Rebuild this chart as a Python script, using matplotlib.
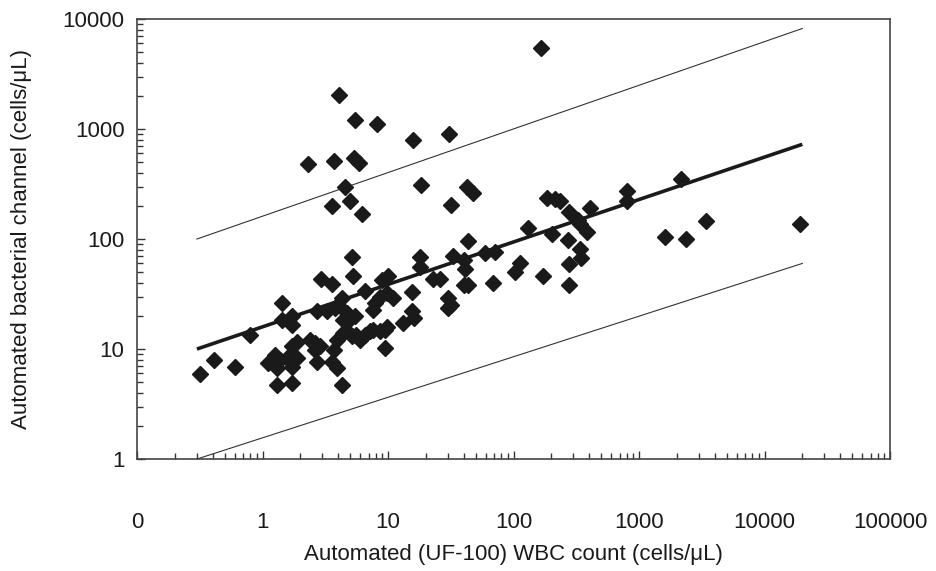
"""Automated bacterial channel vs automated (UF-100) WBC count, log-log scatter
with regression line and +/- prediction bounds."""

import matplotlib
matplotlib.use("Agg")
import matplotlib.pyplot as plt
from matplotlib.ticker import LogLocator, FixedLocator, FuncFormatter

plt.rcParams["font.family"] = ["Liberation Sans", "DejaVu Sans"]

# points (cells/uL)
wbc = [
    165, 4.1, 5.5, 8.2, 15.8, 30.6, 2.3, 3.7, 5.4, 5.9,
    4.5, 18.3, 42.6, 47.5, 3.6, 5.0, 6.2, 32,
    184, 214, 235, 800, 800, 2150, 278, 407, 328, 339,
    131, 382, 201, 273, 43, 59, 71, 33, 40, 41,
    339, 343, 113, 103, 278, 173, 40, 43, 68, 278,
    1610, 2370, 3420, 19200, 32,
    5.2, 18, 5.3, 2.9, 3.6, 9.0, 10, 15.5, 18, 23, 26,
    1.43, 4.3, 6.6, 11, 30, 30, 15.5, 16, 13.2,
    8.6, 9.75, 7.9, 7.6, 4.7, 5.5, 4.4, 4.8,
    2.7, 3.25, 3.8, 4.0, 1.71, 1.42, 0.8, 1.71,
    4.4, 4.7, 5.2, 5.6, 6.0, 6.6, 7.2, 7.65, 8.6, 9.45, 9.75,
    3.94, 3.69, 3.58, 3.94, 4.3,
    2.62, 2.62, 2.39, 2.87, 2.7,
    1.26, 1.38, 1.56, 1.71, 1.87, 1.11, 1.30, 1.71, 1.71, 1.30,
    0.6, 0.41, 0.32, 9.45, 1.71, 1.87,
]
bact = [
    5500, 2050, 1200, 1100, 790, 910, 480, 510, 540, 490,
    300, 310, 300, 260, 198, 220, 170, 205,
    237, 229, 221, 273, 221, 354, 175, 192, 150, 138,
    126, 116, 110, 99, 95, 75, 77, 70, 65, 53,
    81, 67, 61, 50, 59, 46, 38, 38, 40, 38,
    105, 100, 147, 138, 25,
    68, 69, 46, 43, 39, 42, 46, 33, 56, 43, 43,
    26, 29, 34, 29, 29, 23.6, 22.3, 19.1, 17.2,
    30, 32, 26, 22.8, 21.3, 19.8, 18.5, 17.8,
    22, 22, 23.6, 25.3, 19.8, 18.5, 13.5, 16.6,
    14.0, 14.5, 13.0, 13.5, 12.2, 13.5, 14.5, 15.0, 14.5, 15.0, 15.8,
    12.2, 9.8, 7.7, 6.7, 4.7,
    11.3, 9.8, 12.2, 10.6, 7.7,
    8.9, 8.0, 8.3, 7.7, 8.3, 7.45, 6.7, 6.9, 4.9, 4.7,
    6.9, 7.9, 5.95, 10.2, 10.6, 11.5,
]

# regression line and the two bounds, as end points
fit_x = [0.3, 20000]
fit_y = [10, 726]
upper_y = [100, 8200]
lower_y = [1, 60]

x_ticks = [0.1, 1, 10, 100, 1000, 10000, 100000]
x_labels = ["0", "1", "10", "100", "1000", "10000", "100000"]
y_ticks = [1, 10, 100, 1000, 10000]
y_labels = ["1", "10", "100", "1000", "10000"]

fig = plt.figure(figsize=(9.36, 5.71), dpi=100)
ax = fig.add_axes([0.1464, 0.1961, 0.8045, 0.7706])

ax.plot(fit_x, upper_y, color="#333333", lw=0.8)
ax.plot(fit_x, lower_y, color="#333333", lw=0.8)
ax.plot(fit_x, fit_y, color="#1a1a1a", lw=2.6, solid_capstyle="butt")
ax.plot(wbc, bact, ls="none", marker="D", ms=8.5, color="#1a1a1a",
        mec="#1a1a1a")

ax.set_xscale("log")
ax.set_yscale("log")
ax.set_xlim(0.1, 100000)
ax.set_ylim(1, 10000)

ax.xaxis.set_major_locator(FixedLocator(x_ticks))
ax.xaxis.set_major_formatter(
    FuncFormatter(lambda v, p: x_labels[x_ticks.index(v)] if v in x_ticks else ""))
ax.yaxis.set_major_locator(FixedLocator(y_ticks))
ax.yaxis.set_major_formatter(
    FuncFormatter(lambda v, p: y_labels[y_ticks.index(v)] if v in y_ticks else ""))
for axis in (ax.xaxis, ax.yaxis):
    axis.set_minor_locator(LogLocator(base=10, subs=range(2, 10), numticks=20))
    axis.set_minor_formatter(FuncFormatter(lambda v, p: ""))

ax.tick_params(which="both", direction="in", color="#333333", width=1.0,
               labelsize=16, labelcolor="#1a1a1a")
ax.tick_params(which="major", length=5.5)
ax.tick_params(which="minor", length=4)
ax.tick_params(axis="x", which="major", pad=38)
ax.tick_params(axis="y", which="major", pad=9)

for s in ax.spines.values():
    s.set_color("#444444")
    s.set_linewidth(1.2)

ax.set_xlabel("Automated (UF-100) WBC count (cells/\u03bcL)", fontsize=16,
              color="#1a1a1a", labelpad=8)
ax.set_ylabel("Automated bacterial channel (cells/\u03bcL)", fontsize=16,
              color="#1a1a1a", labelpad=22)

fig.savefig("out.png", dpi=100)
